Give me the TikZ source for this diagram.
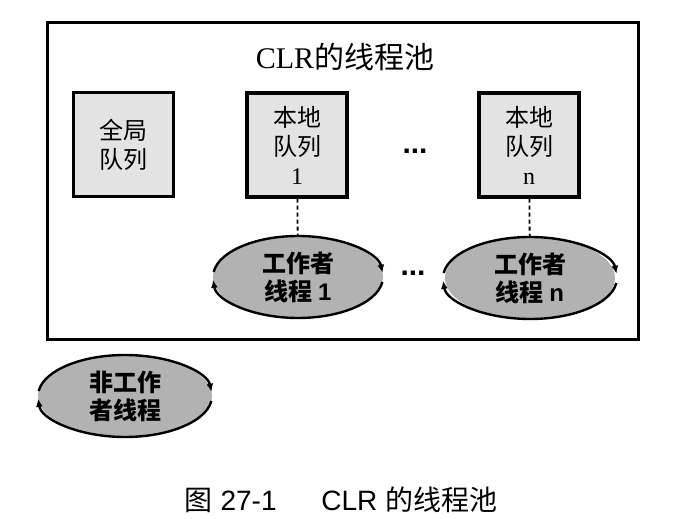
\documentclass[tikz,border=0pt]{standalone}
\usepackage{fontspec}
\setmainfont{Liberation Serif}
\setsansfont{Liberation Sans}
\newfontfamily\cjk{Noto Sans CJK SC}
\usetikzlibrary{shapes.geometric, positioning, arrows.meta}

% two arcs with arrow tips round a worker ellipse
\newcommand{\spinarcs}[3]{%
  \draw[spin] (#1.center) ++(173:#2 and #3) arc[start angle=173, end angle=6, x radius=#2, y radius=#3];
  \draw[spin] (#1.center) ++(-7:#2 and #3) arc[start angle=-7, end angle=-176, x radius=#2, y radius=#3];}

\tikzset{
  queue/.style={draw, line width=3.2pt, fill=black!11, minimum width=100pt, minimum height=104pt,
                align=center, font=\cjk\fontsize{24}{29}\selectfont},
  worker/.style={ellipse, fill=black!30, minimum width=170pt, minimum height=82pt, inner sep=0pt,
                 align=center, font=\cjk\bfseries\fontsize{24}{28}\selectfont},
  spin/.style={line width=2.4pt, -{Latex[length=8pt, width=7pt]}},
  dots/.style={font=\sffamily\bfseries\fontsize{30}{30}\selectfont, inner sep=0pt},
  link/.style={line width=1.8pt, dash pattern=on 4pt off 3pt}
}

\begin{document}
\begin{tikzpicture}[x=1pt, y=1pt]
\useasboundingbox (0,0) rectangle (683,519);
\fill[white] (0,0) rectangle (683,519);

% the pool
\draw[line width=3pt] (47,496) rectangle (638,179);
\node (title) at (345,462) {\fontsize{30}{30}\selectfont CLR{\cjk 的线程池}};

% queues
\node[queue] (glob) at (123.5,374.5) {全局\\队列};
\node[queue] (loc1) at (297,374)     {本地\\队列\\{\rmfamily 1}};
\node[queue] (locn) at (529,374)     {本地\\队列\\{\rmfamily n}};
\node[dots]  (qdots) at (415,368)    {...};

% worker threads
\node[worker] (wrk1) at (298,242) {工作者\\线程 {\sffamily 1}};
\node[worker] (wrkn) at (530,241) {工作者\\线程 {\sffamily n}};
\node[dots]   (wdots) at (413,246) {...};
\spinarcs{wrk1}{85pt}{41pt}
\spinarcs{wrkn}{87pt}{41pt}

\draw[link] (loc1) -- (wrk1);
\draw[link] (locn) -- (wrkn);

% outside the pool
\node[worker, minimum width=174pt] (other) at (125,123) {非工作\\者线程};
\spinarcs{other}{87pt}{41pt}

% caption
\node (cap) at (341,19) {\sffamily\fontsize{28}{28}\selectfont{\cjk 图} 27-1\hspace{1.6em}CLR {\cjk 的线程池}};
\end{tikzpicture}
\end{document}
